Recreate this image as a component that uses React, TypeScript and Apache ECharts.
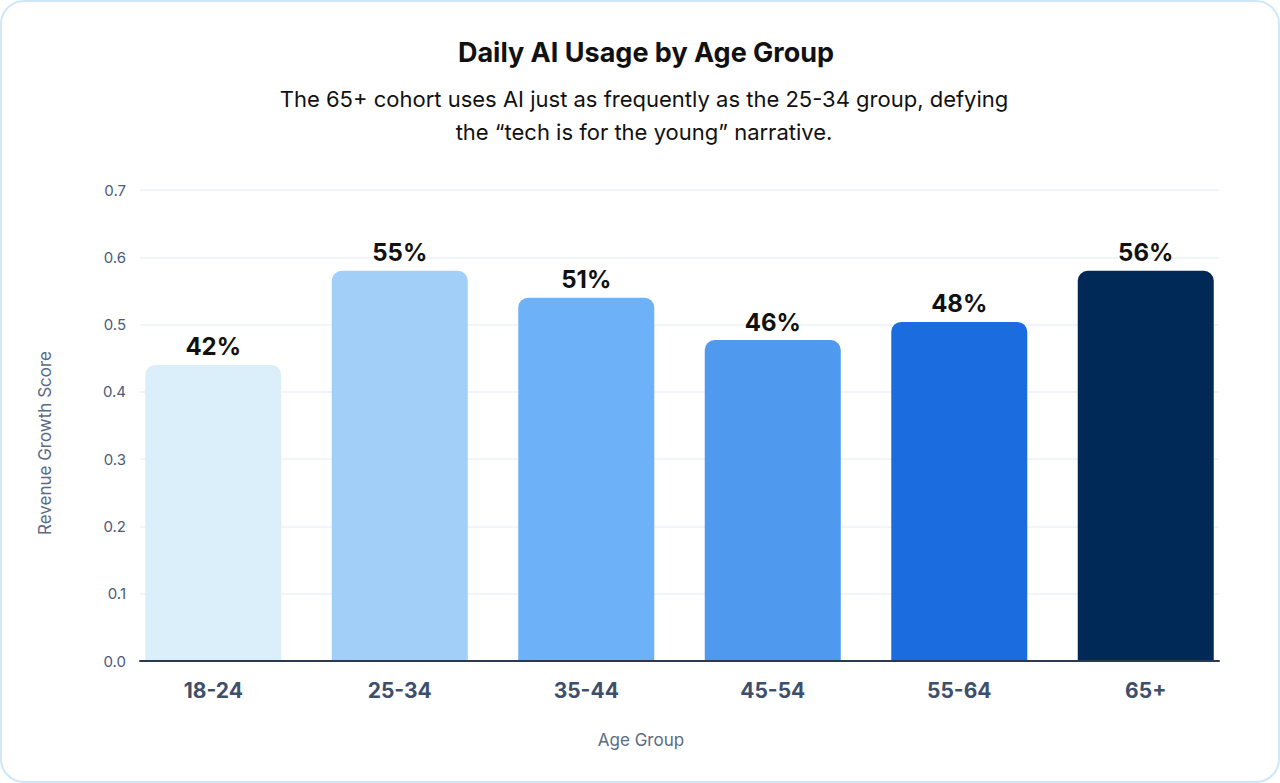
import React, { useEffect, useRef } from "react";
import * as echarts from "echarts";

const categories = ["18-24", "25-34", "35-44", "45-54", "55-64", "65+"];
const values = [0.44, 0.58, 0.54, 0.477, 0.504, 0.58];
const valueLabels = ["42%", "55%", "51%", "46%", "48%", "56%"];
const barColors = ["#dbeffa", "#a2cff8", "#6db1f9", "#4f9aee", "#1b6ddf", "#012958"];

const titleText = "Daily AI Usage by Age Group";
const subtitleText =
  "The 65+ cohort uses AI just as frequently as the 25-34 group, defying\nthe \u201ctech is for the young\u201d narrative.";
const xName = "Age Group";
const yName = "Revenue Growth Score";

const FONT = "Inter, 'Noto Sans', sans-serif";

export default function App() {
  const ref = useRef<HTMLDivElement>(null);

  useEffect(() => {
    document.body.style.margin = "0";
    if (!ref.current) return;
    const chart = echarts.init(ref.current, undefined, { renderer: "svg" });
    const top = 190;
    const bottom = 122;
    chart.setOption({
      animation: false,
      textStyle: { fontFamily: FONT },
      title: [
        {
          text: titleText,
          left: 641,
          top: 31,
          textAlign: "center",
          textStyle: { fontFamily: FONT, fontSize: 27, fontWeight: "bold", color: "#111111", lineHeight: 32 },
        },
        {
          text: subtitleText,
          left: 639,
          top: 77,
          textAlign: "center",
          textStyle: { fontFamily: FONT, fontSize: 22, fontWeight: "normal", color: "#111111", lineHeight: 33 },
        },
        {
          text: xName,
          left: 636,
          top: 726,
          textAlign: "center",
          textStyle: { fontFamily: FONT, fontSize: 17, fontWeight: "normal", color: "#5b6b86" },
        },
      ],
      graphic: [
        {
          type: "text",
          x: 45,
          y: 443,
          rotation: Math.PI / 2,
          style: {
            text: yName,
            fontFamily: FONT,
            fontSize: 17,
            fill: "#5b6b86",
            textAlign: "center",
            textVerticalAlign: "middle",
          },
        },
      ],
      grid: [
        { left: 140, right: 61, top, bottom },
        { left: 120, right: 41, top, bottom },
      ],
      xAxis: [
        {
          type: "category",
          gridIndex: 0,
          data: categories,
          axisLine: { show: true, lineStyle: { color: "#2b3a52", width: 2 } },
          axisTick: { show: false },
          axisLabel: { show: false },
          splitLine: { show: false },
          z: 5,
        },
        {
          type: "category",
          gridIndex: 1,
          data: categories,
          axisLine: { show: false },
          axisTick: { show: false },
          axisLabel: {
            margin: 19,
            fontFamily: FONT,
            fontSize: 21,
            fontWeight: "bold",
            color: "#3d4f6b",
          },
        },
      ],
      yAxis: [
        {
          type: "value",
          gridIndex: 0,
          min: 0,
          max: 0.7,
          interval: 0.1,
          axisLine: { show: false },
          axisTick: { show: false },
          axisLabel: {
            margin: 14,
            fontFamily: FONT,
            fontSize: 15,
            color: "#4b5b78",
            formatter: (v: number) => v.toFixed(1),
          },
          splitLine: { show: true, lineStyle: { color: "#edf2f8", width: 1.5 } },
        },
        {
          type: "value",
          gridIndex: 1,
          min: 0,
          max: 0.7,
          interval: 0.1,
          show: false,
          splitLine: { show: false },
        },
      ],
      series: [
        {
          type: "bar",
          xAxisIndex: 1,
          yAxisIndex: 1,
          barWidth: 136,
          data: values.map((v, i) => ({ value: v, itemStyle: { color: barColors[i] } })),
          itemStyle: { borderRadius: [10, 10, 0, 0] },
          label: {
            show: true,
            position: "top",
            distance: 6,
            fontFamily: FONT,
            fontSize: 24,
            fontWeight: "bold",
            color: "#111111",
            formatter: (p: any) => valueLabels[p.dataIndex],
          },
        },
      ],
    });
    return () => chart.dispose();
  }, []);

  return (
    <div
      style={{
        position: "relative",
        width: 1280,
        height: 783,
        boxSizing: "border-box",
        border: "2px solid #cfe7fc",
        borderRadius: 24,
        background: "#ffffff",
      }}
    >
      <div ref={ref} style={{ position: "absolute", left: -2, top: -2, width: 1280, height: 783 }} />
    </div>
  );
}
